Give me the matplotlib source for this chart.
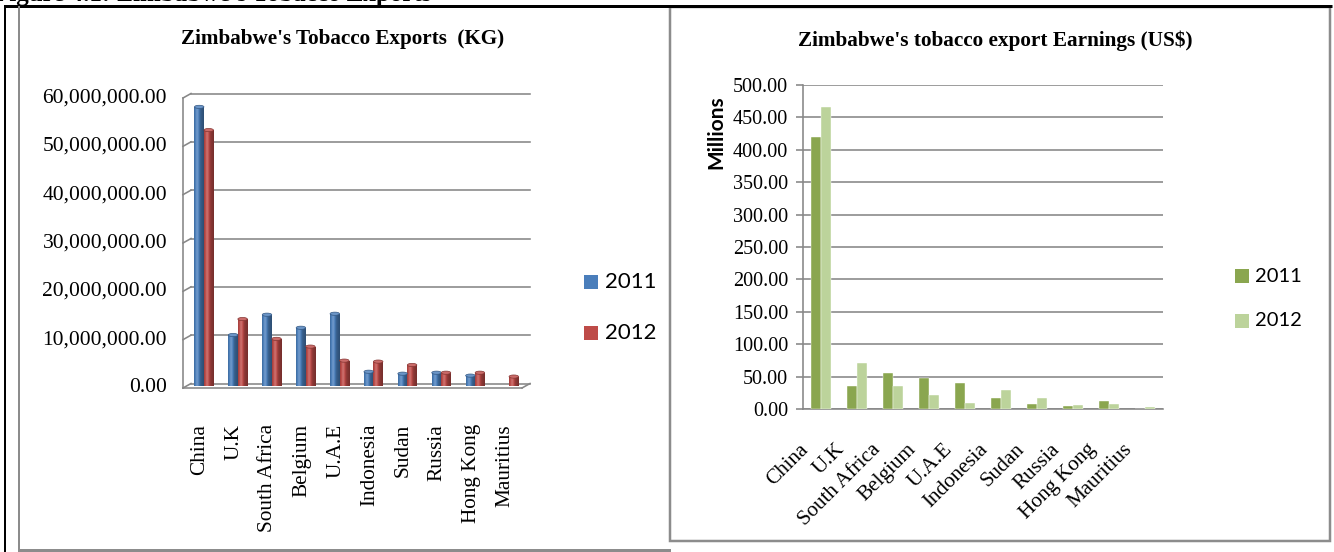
import numpy as np
import matplotlib
matplotlib.use("Agg")
import matplotlib.pyplot as plt
from matplotlib import transforms as mtransforms
from matplotlib.patches import Rectangle, Ellipse
from matplotlib.lines import Line2D
from matplotlib.colors import to_rgb

# ---- data -------------------------------------------------------------
countries = ["China", "U.K", "South Africa", "Belgium", "U.A.E",
             "Indonesia", "Sudan", "Russia", "Hong Kong", "Mauritius"]
years = ["2011", "2012"]

# tobacco exports, kg
kg_2011 = [57.7e6, 10.5e6, 14.7e6, 12.0e6, 14.9e6, 2.9e6, 2.5e6, 2.7e6, 2.1e6, 0.0]
kg_2012 = [52.9e6, 13.8e6, 9.7e6, 8.1e6, 5.2e6, 5.0e6, 4.3e6, 2.7e6, 2.7e6, 1.9e6]

# export earnings, US$ millions
usd_2011 = [420.0, 35.9, 55.4, 47.2, 40.0, 16.9, 7.2, 5.1, 12.3, 0.0]
usd_2012 = [466.0, 71.2, 35.4, 21.5, 8.7, 29.2, 16.9, 6.7, 8.2, 3.0]

kg_ticks = list(range(0, 60_000_001, 10_000_000))
usd_ticks = list(range(0, 501, 50))

# ---- styling ------------------------------------------------------------
W, H, DPI = 1334, 552, 100
SERIF = "Liberation Serif"
SANS = "Lato"
GRID = "#878787"
FRAME = "#8c8c8c"
BLUE, RED = "#4A7EBB", "#BE4B48"
GREEN_DARK, GREEN_LIGHT = "#8AA64F", "#BCD39B"
PX = 72.0 / DPI  # one pixel in points

fig = plt.figure(figsize=(W / DPI, H / DPI), dpi=DPI)
fig.patch.set_facecolor("white")


def frac(x0, y0, x1, y1):
    """Pixel box (top-left origin) -> figure fraction rect."""
    return [x0 / W, 1 - y1 / H, (x1 - x0) / W, (y1 - y0) / H]


# background layer in pixel coordinates for frames and free text
bg = fig.add_axes([0, 0, 1, 1], zorder=0)
bg.set_xlim(0, W)
bg.set_ylim(H, 0)
bg.axis("off")

bg.text(-6, 0.5, "Figure 4.1: Zimbabwe's Tobacco Exports", fontfamily=SERIF,
        fontweight="bold", fontsize=18, ha="left", va="baseline")
bg.plot([4, 1332], [5.5, 5.5], color="black", lw=3 * PX, solid_capstyle="butt")
bg.plot([5, 5], [5, H], color="black", lw=2 * PX, solid_capstyle="butt")

# left panel frame
bg.plot([19, 19], [7, 550], color=FRAME, lw=2 * PX)
bg.plot([19, 669], [550, 550], color=FRAME, lw=3 * PX)
# right panel frame
bg.add_patch(Rectangle((670, 7), 660, 534, facecolor="white",
                       edgecolor=FRAME, lw=2.5 * PX))

# titles, axis title and legends
bg.text(343, 39, "Zimbabwe's Tobacco Exports  (KG)", fontfamily=SERIF,
        fontweight="bold", fontsize=15.2, ha="center", va="center")
bg.text(995, 41, "Zimbabwe's tobacco export Earnings (US$)", fontfamily=SERIF,
        fontweight="bold", fontsize=15.3, ha="center", va="center")
bg.text(716, 132, "Millions", fontfamily=SANS, fontweight="bold", fontsize=15,
        rotation=90, ha="center", va="center")

for (yc, col, lab) in zip([282, 333], [BLUE, RED], years):
    bg.add_patch(Rectangle((584, yc - 7), 14, 14, facecolor=col, edgecolor="none"))
    bg.text(605, yc, lab, fontfamily=SANS, fontsize=16, ha="left", va="center")
for (yc, col, lab) in zip([276, 321], [GREEN_DARK, GREEN_LIGHT], years):
    bg.add_patch(Rectangle((1235, yc - 7), 14, 14, facecolor=col, edgecolor="none"))
    bg.text(1255, yc, lab, fontfamily=SANS, fontsize=14.5, ha="left", va="center")


# ---- left chart: 3-D style cylinders --------------------------------------
def shade(color, f):
    c = np.array(to_rgb(color))
    if f >= 1:
        return c + (1 - c) * min(f - 1, 1)
    return c * f


def cylinder(ax, x, h, w, color, tr, ppu):
    if h <= 0:
        return
    bar = ax.bar(x, h, w, color=color, transform=tr, zorder=3, linewidth=0)[0]
    t = np.linspace(0, 1, 40)
    prof = 0.80 + 0.42 * np.exp(-((t - 0.32) / 0.22) ** 2) - 0.18 * t ** 2
    grad = np.array([[shade(color, f) for f in prof]])
    img = ax.imshow(grad, extent=(x - w / 2, x + w / 2, 0, h), transform=tr,
                    aspect="auto", interpolation="bilinear", zorder=3.1)
    img.set_clip_path(bar)
    ax.add_patch(Ellipse((x, h), w, 3.2 / ppu, transform=tr, zorder=3.2,
                         facecolor=shade(color, 1.18), edgecolor=shade(color, 0.7),
                         lw=0.5))


ax1 = fig.add_axes(frac(183, 98, 522, 388), zorder=1)
ax1.patch.set_visible(False)
ax1.axis("off")
n = len(countries)
xlim = (-0.5, n - 0.5)
ax1.set_xlim(*xlim)
ax1.set_ylim(0, kg_ticks[-1])

back = mtransforms.offset_copy(ax1.transData, fig=fig, x=8, y=4.5, units="dots")
mid = mtransforms.offset_copy(ax1.transData, fig=fig, x=4, y=2.25, units="dots")
ident = mtransforms.IdentityTransform()
lw_grid = 1.6 * PX
ylab_tr = mtransforms.blended_transform_factory(
    mtransforms.offset_copy(ax1.transAxes, fig=fig, x=-16, y=0, units="dots"),
    ax1.transData)

for v in kg_ticks:
    ax1.plot(xlim, [v, v], transform=back, color=GRID, lw=lw_grid,
             clip_on=False, zorder=1)
    f = ax1.transData.transform((xlim[0], v))
    b = back.transform((xlim[0], v))
    ax1.add_line(Line2D([f[0], b[0]], [f[1], b[1]], transform=ident,
                        color=GRID, lw=lw_grid, clip_on=False, zorder=1))
    ax1.text(0, v, f"{v:,.2f}", transform=ylab_tr, ha="right", va="center",
             fontfamily=SERIF, fontsize=15.5)

# wall edge and floor
ax1.plot([xlim[0], xlim[0]], [0, kg_ticks[-1]], color=GRID, lw=lw_grid,
         clip_on=False, zorder=1)
ax1.plot(xlim, [0, 0], color=GRID, lw=lw_grid, clip_on=False, zorder=4)
f = ax1.transData.transform((xlim[1], 0))
b = back.transform((xlim[1], 0))
ax1.add_line(Line2D([f[0], b[0]], [f[1], b[1]], transform=ident, color=GRID,
                    lw=lw_grid, clip_on=False, zorder=4))

ppu1 = ax1.transData.transform((0, 1))[1] - ax1.transData.transform((0, 0))[1]
bw = 0.28
for i in range(n):
    cylinder(ax1, i - bw / 2, kg_2011[i], bw, BLUE, mid, ppu1)
    cylinder(ax1, i + bw / 2, kg_2012[i], bw, RED, mid, ppu1)

lab1 = mtransforms.offset_copy(ax1.transData, fig=fig, x=0, y=-36, units="dots")
for i, name in enumerate(countries):
    ax1.text(i, 0, name, transform=lab1, rotation=90, ha="center", va="top",
             fontfamily=SERIF, fontsize=15.3)
ax1.set_xlim(*xlim)
ax1.set_ylim(0, kg_ticks[-1])

# ---- right chart: clustered columns ----------------------------------------
ax2 = fig.add_axes(frac(803, 85, 1163, 409), zorder=1)
ax2.patch.set_visible(False)
x = np.arange(n)
ax2.bar(x - bw / 2, usd_2011, bw, color=GREEN_DARK, zorder=3,
        edgecolor="white", linewidth=0.3)
ax2.bar(x + bw / 2, usd_2012, bw, color=GREEN_LIGHT, zorder=3,
        edgecolor="white", linewidth=0.3)
ax2.set_xlim(*xlim)
ax2.set_ylim(0, usd_ticks[-1])
ax2.set_yticks(usd_ticks)
ax2.set_yticklabels([f"{v:.2f}" for v in usd_ticks], fontfamily=SERIF, fontsize=14.5)
ax2.set_xticks([])
ax2.yaxis.grid(True, color=GRID, lw=1.6 * PX)
ax2.set_axisbelow(True)
for s in ("top", "right"):
    ax2.spines[s].set_visible(False)
for s in ("left", "bottom"):
    ax2.spines[s].set_color(GRID)
    ax2.spines[s].set_linewidth(1.6 * PX)
ax2.tick_params(axis="y", length=5, width=1.6 * PX, color=GRID, pad=8 * PX)

lab2 = mtransforms.offset_copy(ax2.transData, fig=fig, x=-9, y=-31, units="dots")
for i, name in enumerate(countries):
    ax2.text(i, 0, name, transform=lab2, rotation=45, ha="right", va="top",
             fontfamily=SERIF, fontsize=15.2)

fig.savefig("out.png", dpi=DPI, facecolor="white")
